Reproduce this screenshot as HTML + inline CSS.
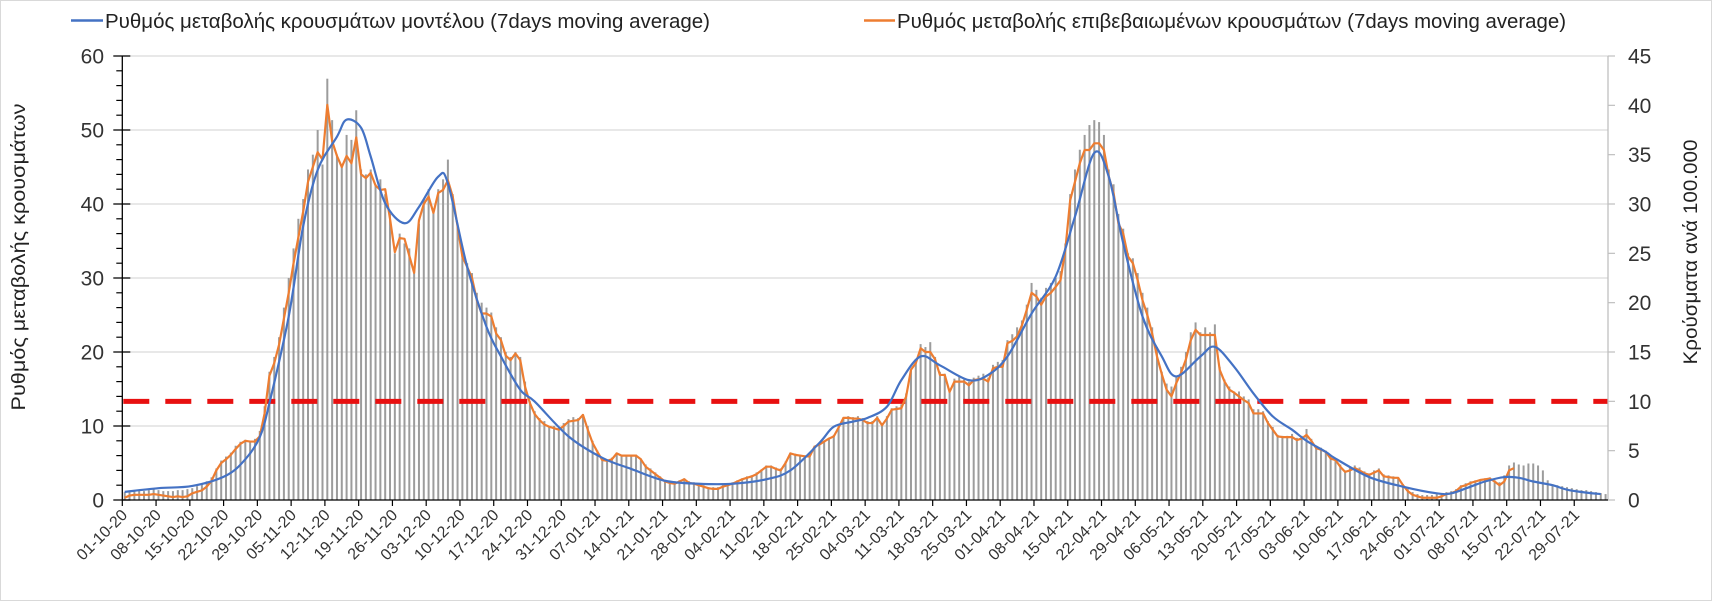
<!DOCTYPE html>
<html><head><meta charset="utf-8"><style>
html,body{margin:0;padding:0;background:#fff;}
svg{display:block;font-family:"Liberation Sans",sans-serif;}
</style></head><body>
<svg id="chart" width="1712" height="601" viewBox="0 0 1712 601" xmlns="http://www.w3.org/2000/svg">
<rect x="0.5" y="0.5" width="1711" height="600" fill="#fff" stroke="#D9D9D9"/>
<g id="grid"></g>
<g id="bars"></g>
<line id="threshold" stroke="#E81010" stroke-width="5" stroke-dasharray="26,16"/>
<path id="orange" fill="none" stroke="#ED7D31" stroke-width="2.2" stroke-linejoin="round"/>
<path id="blue" fill="none" stroke="#4472C4" stroke-width="2.2"/>
<g id="axes"></g>
<g>
 <line x1="71" y1="20.5" x2="103" y2="20.5" stroke="#4472C4" stroke-width="2.5"/>
 <text x="105" y="28" font-size="20" fill="#222" textLength="605" lengthAdjust="spacingAndGlyphs">Ρυθμός μεταβολής κρουσμάτων μοντέλου (7days moving average)</text>
 <line x1="864" y1="20.5" x2="895" y2="20.5" stroke="#ED7D31" stroke-width="2.5"/>
 <text x="897" y="28" font-size="20" fill="#222" textLength="669" lengthAdjust="spacingAndGlyphs">Ρυθμός μεταβολής επιβεβαιωμένων κρουσμάτων (7days moving average)</text>
</g>
<text transform="translate(25,257) rotate(-90)" text-anchor="middle" font-size="19" fill="#222" textLength="307" lengthAdjust="spacingAndGlyphs">Ρυθμός μεταβολής κρουσμάτων</text>
<text transform="translate(1697,252) rotate(-90)" text-anchor="middle" font-size="19" fill="#222" textLength="225" lengthAdjust="spacingAndGlyphs">Κρούσματα ανά 100.000</text>
</svg>
<script>
const weekLabels = ["01-10-20","08-10-20","15-10-20","22-10-20","29-10-20","05-11-20","12-11-20","19-11-20","26-11-20","03-12-20","10-12-20","17-12-20","24-12-20","31-12-20","07-01-21","14-01-21","21-01-21","28-01-21","04-02-21","11-02-21","18-02-21","25-02-21","04-03-21","11-03-21","18-03-21","25-03-21","01-04-21","08-04-21","15-04-21","22-04-21","29-04-21","06-05-21","13-05-21","20-05-21","27-05-21","03-06-21","10-06-21","17-06-21","24-06-21","01-07-21","08-07-21","15-07-21","22-07-21","29-07-21"];
const leftTicks = [0,10,20,30,40,50,60];
const rightTicks = [0,5,10,15,20,25,30,35,40,45];
const thresholdRight = [10];
const barValues = [0.8,0.9,1.0,1.0,0.9,1.0,1.1,1.0,0.9,0.9,
0.9,1.0,1.0,1.1,1.2,1.4,1.6,1.9,2.3,3.2,
4.0,4.4,4.8,5.5,5.9,6.1,5.9,6.2,7.0,9.5,
13,14.5,16.5,19.5,22.5,25.5,28.5,30.5,33.5,35,
37.5,34,42.7,38.5,35,34,37,36.5,39.5,33.5,
33,33.5,32,32.5,31,29,25,27,26,25.5,
23.5,28,30.5,31.5,29.5,31.5,32.5,34.5,31,28,
25,24,23,21,20,19.5,19,17.5,16.5,15,
14.5,15,14.5,12,10,9,8.3,8,7.5,7.5,
7.3,7.8,8.2,8.4,8.3,8.7,7.5,6,5,4.3,
4.1,4.3,4.8,4.6,4.6,4.6,4.6,4.2,3.6,3.2,
2.8,2.4,2.0,1.9,1.9,2.0,2.2,1.9,1.8,1.6,
1.5,1.3,1.3,1.3,1.5,1.7,1.8,2.0,2.2,2.4,
2.5,2.8,3.1,3.5,3.5,3.3,3.2,3.9,4.8,4.7,
4.6,4.5,4.6,5.5,5.8,6.0,6.3,6.6,7.5,8.4,
8.5,8.4,8.5,8.3,8.0,8.0,8.5,7.8,8.5,9.3,
9.5,9.7,10.8,13.2,14.3,15.8,15.5,16,14.5,13,
12.8,11.2,12.3,12.5,12.2,12,12.4,12.6,12.8,12.4,
13.7,14,14.2,16.2,16.8,17.5,18.2,19.8,22,21.3,
20.5,21.5,22,22.5,23.2,26,31,33.5,35.5,37,
38,38.5,38.3,37,33.5,32,29,27.5,25,24.5,
23,21,19.5,17.5,15.5,13,11.8,11.5,12.5,13.5,
15,17,18,17,17.5,17,17.8,13.5,12.2,11.5,
11,11,10.5,10.2,9.2,9.2,9,8,7.4,6.6,
6.5,6.5,6.7,6.3,6.5,7.2,6.2,5.5,5.3,5,
4.4,4.1,3.6,3,3.3,3.5,3.3,2.9,2.7,3,
3.2,2.6,2.5,2.4,2.3,1.6,1.1,0.8,0.6,0.5,
0.5,0.5,0.6,0.7,0.8,0.9,1.1,1.5,1.7,1.9,
2.0,2.1,2.2,2.3,2.0,1.8,2.5,3.5,3.8,3.6,
3.5,3.7,3.7,3.5,3.0,2.0,1.6,1.5,1.4,1.3,
1.2,1.1,1.0,1.0,0.9,0.8,0.7,0.6];
const confirmedRate = [0.3,0.6,0.7,0.7,0.7,0.7,0.8,0.7,0.6,0.5,
0.4,0.5,0.4,0.5,0.9,1.1,1.3,1.8,2.6,4.0,
5.0,5.5,6.1,6.9,7.6,8.0,7.9,7.9,8.6,11.7,
16.8,18.5,21.0,24.5,28,32,35.5,39,43,45,
47,46,53.4,48.5,46.5,45,46.5,45.5,49,44,
43.5,44.2,42.5,41.9,42,38,33.5,35.4,35.3,33,
30.7,37.8,40,41,38.8,41.5,41.9,43.2,41,37,
32.9,31.5,30,27,25.2,25.2,24.8,22.5,21.6,19.5,
18.9,19.8,18.9,15.3,13.1,11.6,10.8,10.2,9.9,9.7,
9.5,10.0,10.6,10.7,10.8,11.5,9.5,7.7,6.5,5.4,
5.3,5.5,6.3,6.0,6.0,6.0,6.0,5.5,4.5,4.0,
3.5,3.0,2.5,2.3,2.2,2.5,2.8,2.3,2.2,2.0,
1.8,1.6,1.5,1.5,1.8,2.0,2.2,2.5,2.8,3.0,
3.2,3.5,4.0,4.5,4.5,4.2,4.0,5.0,6.3,6.1,
6.0,5.9,5.9,7.2,7.5,7.9,8.3,8.6,9.8,11.1,
11.1,11.0,11.0,10.8,10.4,10.4,11.1,10.1,11.0,12.2,
12.3,12.4,14.0,17.6,18.5,20.5,20,20,19,16.9,
16.9,14.6,16,16,16,15.5,16.2,16.3,16.4,16,
17.8,18,18,21.2,21.5,22.1,23.6,25.7,28,27.5,
26.4,27.5,28,28.8,29.7,33.8,40.5,43,45.5,47.3,
47.3,48.2,48.2,47.3,43.7,41.5,37.4,36,32.9,32,
29.7,27,25,22.5,19.4,17,14.9,14,15.8,17.2,
19,21.6,23,22.3,22.3,22.3,22.3,17.6,16,14.9,
14.5,14,13.5,13.1,11.7,11.7,11.7,10.4,9.5,8.6,
8.5,8.5,8.5,8.1,8.3,8.8,8.0,7.0,6.8,6.5,
5.6,5.4,4.5,3.8,4.0,4.3,4.0,3.6,3.4,3.7,
4.0,3.2,3.1,3.0,3.0,2.0,1.2,0.7,0.5,0.3,
0.3,0.3,0.3,0.5,0.8,0.9,1.2,1.8,2.0,2.3,
2.5,2.7,2.8,2.9,2.5,2.0,2.5,4.0,4.3];
const modelDays = [0,7,14,21,25,28,30,34,37,40,44,46,49,51,54,58,61,65,67,71,75,78,82,85,92,99,105,112,119,126,133,138,144,147,151,154,158,161,165,169,175,179,183,188,193,197,201,204,207,211,215,218,223,226,230,234,238,242,245,249,251,258,265,272,275,279,282,286,289,292,296,299,303,306];
const modelRate = [1.1,1.6,1.9,3.3,5.5,8.5,13.1,24.8,37,44.6,49.1,51.4,50.3,46.4,40.1,37.4,39.6,43.7,42.8,31.5,23.4,19.4,14.9,13.3,8.6,5.7,4.2,2.6,2.2,2.2,2.8,4.0,7.7,9.9,10.6,11.1,12.6,16.2,19.4,18.2,16.2,16.9,19.4,25.2,30.2,38.3,46.9,43.7,34.7,24.8,19.4,16.7,19.4,20.7,18,14.4,11.3,9.5,8.0,6.5,5.6,3.1,1.8,0.9,0.9,1.8,2.5,3.1,3.0,2.5,2.0,1.4,1.0,0.8];

const NS="http://www.w3.org/2000/svg";
const X0=122.3, X1=1608, NDAYS=308, DW=(X1-X0)/NDAYS;
const Y0=500, PH=444;
function xDay(d){return X0+(d+0.5)*DW;}
function xTick(i){return X0+i*7*DW;}
function yL(v){return Y0-v/60*PH;}
function yR(v){return Y0-v/45*PH;}
function mk(tag,attrs,parent){const e=document.createElementNS(NS,tag);for(const k in attrs)e.setAttribute(k,attrs[k]);parent.appendChild(e);return e;}

const grid=document.getElementById('grid');
leftTicks.forEach(v=>{ if(v===0) return;
  const l=mk('line',{x1:X0,x2:X1,y1:yL(v),y2:yL(v),stroke:'#D9D9D9','stroke-width':1.3},grid);
  
  
});

const bars=document.getElementById('bars');
barValues.forEach((v,i)=>{
  const h=v/45*PH;
  const r=mk('rect',{x:xDay(i)-1,y:Y0-h,width:2,height:h,fill:'#9C9C9C'},bars);
  
  
});

const th=document.getElementById('threshold');
th.setAttribute('x1',X0+1);th.setAttribute('x2',X1);
th.setAttribute('y1',yR(thresholdRight[0]));th.setAttribute('y2',yR(thresholdRight[0]));

document.getElementById('orange').setAttribute('d',confirmedRate.map((v,i)=>(i?'L':'M')+xDay(i).toFixed(2)+','+yL(v).toFixed(2)).join(''));

(function(){
  const P=modelDays.map((d,i)=>[xDay(d),yL(modelRate[i])]);
  let d='M'+P[0][0]+','+P[0][1];
  for(let i=0;i<P.length-1;i++){
    const p0=P[Math.max(i-1,0)],p1=P[i],p2=P[i+1],p3=P[Math.min(i+2,P.length-1)];
    const c1=[p1[0]+(p2[0]-p0[0])/6,p1[1]+(p2[1]-p0[1])/6];
    const c2=[p2[0]-(p3[0]-p1[0])/6,p2[1]-(p3[1]-p1[1])/6];
    d+='C'+c1.join(',')+' '+c2.join(',')+' '+p2.join(',');
  }
  document.getElementById('blue').setAttribute('d',d);
})();

const axes=document.getElementById('axes');
let e;
e=mk('line',{x1:X0,x2:X0,y1:yL(60),y2:Y0,stroke:'#000','stroke-width':1.3},axes);


e=mk('line',{x1:X1,x2:X1,y1:yR(45),y2:Y0,stroke:'#BFBFBF','stroke-width':1.3},axes);


e=mk('line',{x1:X0,x2:X1,y1:Y0,y2:Y0,stroke:'#000','stroke-width':1.3},axes);


for(let v=0;v<=60;v+=2){
  const major=v%10===0;
  e=mk('line',{x1:major?X0-9:X0-6,x2:major?X0+8:X0,y1:yL(v),y2:yL(v),stroke:'#000','stroke-width':1.2},axes);
  
  
}
leftTicks.forEach(v=>{
  const t=mk('text',{x:104,y:yL(v)+7.5,'text-anchor':'end','font-size':21,fill:'#333'},axes);
  t.textContent=v;
  
  
});
rightTicks.forEach(v=>{
  e=mk('line',{x1:X1,x2:X1+7,y1:yR(v),y2:yR(v),stroke:'#BFBFBF','stroke-width':1.2},axes);
  
  
  const t=mk('text',{x:1628,y:yR(v)+7.5,'font-size':21,fill:'#333'},axes);
  t.textContent=v;
  
  
});
weekLabels.forEach((lab,i)=>{
  const x=xTick(i);
  e=mk('line',{x1:x,x2:x,y1:Y0,y2:Y0+6,stroke:'#000','stroke-width':1.2},axes);
  
  
  const t=mk('text',{x:0,y:0,'text-anchor':'end','font-size':16,fill:'#333',transform:'translate('+(x+6)+','+(Y0+16)+') rotate(-45)'},axes);
  t.textContent=lab;
  
  
});
</script>
</body></html>
